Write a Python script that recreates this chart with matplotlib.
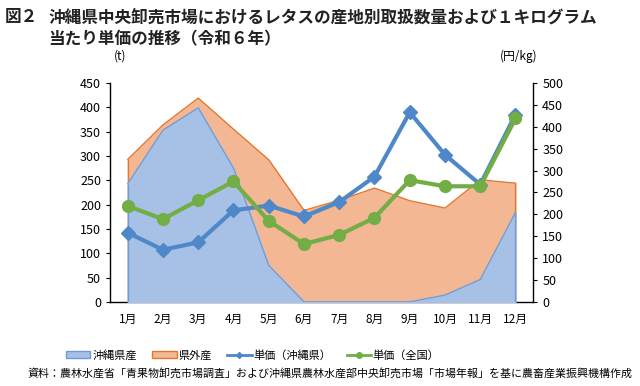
import numpy as np
import matplotlib.pyplot as plt
from matplotlib.patches import Patch
from matplotlib.lines import Line2D

plt.rcParams['font.family'] = ['Noto Sans CJK JP', 'DejaVu Sans']

months = ['1月', '2月', '3月', '4月', '5月', '6月', '7月', '8月', '9月', '10月', '11月', '12月']
# 取扱数量 (t)
okinawa_qty = [243, 353, 399, 275, 75, 0, 0, 0, 0, 14, 46, 184]
outside_qty = [50, 11, 20, 80, 217, 188, 209, 234, 208, 179, 205, 60]
# 単価 (円/kg)
price_okinawa = [158, 119, 136, 209, 220, 195, 228, 286, 433, 336, 268, 428]
price_national = [219, 189, 232, 275, 185, 132, 153, 192, 278, 264, 264, 419]

c_blue_area = '#a7c1e6'
c_blue_edge = '#6f9bd4'
c_orange_area = '#f3b794'
c_orange_edge = '#e2772f'
c_blue_line = '#4f88c8'
c_green_line = '#72ad45'

x = np.arange(len(months))
ok = np.array(okinawa_qty)
tot = ok + np.array(outside_qty)

fig = plt.figure(figsize=(6.4, 3.86), dpi=100)
ax = fig.add_axes([0.172, 0.218, 0.661, 0.567])

ax.fill_between(x, 0, tot, color=c_orange_area, zorder=1)
ax.plot(x, tot, color=c_orange_edge, lw=0.9, zorder=2)
ax.fill_between(x, 0, ok, color=c_blue_area, zorder=3)
ax.plot(x, ok, color=c_blue_edge, lw=0.9, zorder=4)
ax.vlines([x[0], x[-1]], 0, [tot[0], tot[-1]], color=c_orange_edge, lw=0.9, zorder=2)
ax.vlines([x[0], x[-1]], 0, [ok[0], ok[-1]], color=c_blue_edge, lw=0.9, zorder=4)

ax.set_xlim(-0.5, 11.5)
ax.set_ylim(0, 450)
ax.set_yticks(range(0, 451, 50))
ax.set_xticks(x)
ax.set_xticklabels(months, fontsize=8.5)
ax.tick_params(axis='x', length=0, pad=8)
ax.tick_params(axis='y', labelsize=9, length=3, direction='out')
for s in ['top', 'right']:
    ax.spines[s].set_visible(False)
for s in ['left', 'bottom']:
    ax.spines[s].set_color('black')
    ax.spines[s].set_linewidth(1.0)

ax2 = ax.twinx()
ax2.plot(x, price_okinawa, color=c_blue_line, lw=3, marker='D', ms=7.5, zorder=5)
ax2.plot(x, price_national, color=c_green_line, lw=3, marker='o', ms=8.5, zorder=6)
ax2.set_ylim(0, 500)
ax2.set_yticks(range(0, 501, 50))
ax2.tick_params(axis='y', labelsize=9, length=3, direction='out')
for s in ['top', 'left', 'bottom']:
    ax2.spines[s].set_visible(False)
ax2.spines['right'].set_color('black')
ax2.spines['right'].set_linewidth(1.0)

fig.text(0.188, 0.845, '(t)', fontsize=8.5, ha='center')
fig.text(0.81, 0.845, '(円/kg)', fontsize=8.5, ha='center')

fig.text(0.008, 0.955, '図２', fontsize=12, fontweight='bold', va='center', color='#222222')
fig.text(0.075, 0.955, '沖縄県中央卸売市場におけるレタスの産地別取扱数量および１キログラム',
         fontsize=12, fontweight='bold', va='center', color='#222222')
fig.text(0.075, 0.897, '当たり単価の推移（令和６年）', fontsize=12, fontweight='bold',
         va='center', color='#222222')

handles = [
    Patch(facecolor=c_blue_area, edgecolor=c_blue_edge, label='沖縄県産'),
    Patch(facecolor=c_orange_area, edgecolor=c_orange_edge, label='県外産'),
    Line2D([], [], color=c_blue_line, lw=2, marker='D', ms=3, label='単価（沖縄県）'),
    Line2D([], [], color=c_green_line, lw=2, marker='o', ms=4, label='単価（全国）'),
]
fig.legend(handles=handles, loc='center', bbox_to_anchor=(0.395, 0.08), ncol=4,
           frameon=False, fontsize=8, handlelength=2.2, handleheight=0.5,
           handletextpad=0.15, columnspacing=1.4)

fig.text(0.515, 0.033, '資料：農林水産省「青果物卸売市場調査」および沖縄県農林水産部中央卸売市場「市場年報」を基に農畜産業振興機構作成',
         fontsize=7.9, ha='center', va='center')

fig.savefig('out.png', dpi=100)
